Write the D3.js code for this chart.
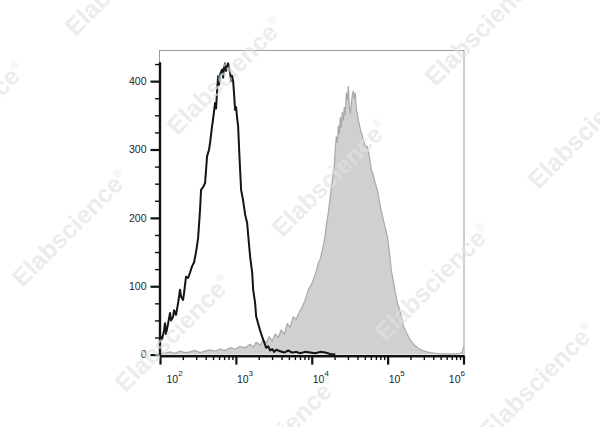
<!DOCTYPE html>
<html><head><meta charset="utf-8">
<script src="https://cdn.jsdelivr.net/npm/d3@7"></script>
<style>body{margin:0;background:#fff}svg{display:block}</style>
</head><body><svg id="c" width="600" height="427"></svg>
<script>
// ---- data ----
const yTickValues = [0, 100, 200, 300, 400];
const xDecades = [2, 3, 4, 5, 6];
const xTickBase = "10";

// unstained / isotype control (black line): log10 fluorescence, count
const blackLogFL = [2.000,2.026,2.053,2.066,2.079,2.106,2.132,2.145,2.172,2.185,2.211,2.238,2.264,2.277,2.304,2.317,2.343,2.370,2.396,2.422,2.449,2.475,2.502,2.528,2.541,2.568,2.594,2.607,2.620,2.647,2.660,2.686,2.700,2.726,2.739,2.752,2.766,2.779,2.792,2.818,2.832,2.845,2.858,2.871,2.884,2.898,2.911,2.924,2.937,2.950,2.964,2.977,2.990,3.003,3.017,3.030,3.043,3.056,3.069,3.096,3.122,3.149,3.162,3.188,3.215,3.228,3.254,3.267,3.294,3.320,3.347,3.373,3.399,3.426,3.452,3.479,3.505,3.531,3.584,3.637,3.690,3.743,3.795,3.848,3.914,3.980,4.046,4.112,4.178,4.244,4.310];
const blackCounts = [28,22,35,46,30,45,61,50,55,65,58,75,95,85,80,90,114,112,120,129,135,150,170,212,241,245,251,270,290,300,310,334,345,368,360,385,407,395,410,417,405,420,426,415,422,426,418,412,400,408,400,380,358,362,345,334,300,270,241,225,205,192,175,143,120,95,75,56,45,35,26,18,10,12,6,8,4,7,5,3,6,3,4,2,4,3,2,4,3,1,0];

// stained sample (grey filled): log10 fluorescence, count
const grayLogFL = [2.000,2.066,2.132,2.198,2.264,2.330,2.396,2.462,2.528,2.594,2.660,2.726,2.792,2.858,2.924,2.990,3.056,3.122,3.188,3.228,3.267,3.320,3.360,3.399,3.439,3.479,3.518,3.558,3.597,3.637,3.677,3.716,3.756,3.795,3.835,3.875,3.914,3.954,3.993,4.020,4.059,4.086,4.112,4.152,4.178,4.191,4.218,4.244,4.271,4.297,4.310,4.323,4.337,4.350,4.363,4.376,4.389,4.403,4.416,4.429,4.442,4.455,4.469,4.482,4.495,4.508,4.521,4.535,4.548,4.561,4.574,4.587,4.601,4.614,4.640,4.667,4.680,4.706,4.733,4.759,4.786,4.812,4.838,4.865,4.891,4.917,4.944,4.970,4.997,5.023,5.050,5.076,5.102,5.129,5.168,5.208,5.248,5.300,5.353,5.406,5.459,5.512,5.564,5.630,5.696,5.762,5.828,5.894,5.960,5.987,6.000];
const grayCounts = [3,2,4,2,5,3,4,6,3,5,7,5,8,6,10,8,12,10,15,11,18,14,22,17,26,20,30,25,36,30,45,40,55,52,62,70,80,95,102,109,122,134,140,159,175,188,207,231,255,275,300,319,310,335,322,348,332,355,342,362,350,383,372,393,365,352,366,380,386,374,383,360,352,343,330,320,314,305,304,290,270,262,250,241,225,210,197,185,173,150,122,108,90,76,62,42,32,21,14,9,6,4,3,2,1,1,1,1,2,4,12];

const watermarkText = "Elabscience";

// ---- drawing ----
const svg = d3.select("#c");
const x = d3.scaleLog().domain([1e2, 1e6]).range([160, 463.5]);
const y = d3.scaleLinear().domain([0, 428]).range([354.6, 62]);

// frame
svg.append("rect")
  .attr("x", 159.5).attr("y", 50.5).attr("width", 304.5).attr("height", 305)
  .attr("fill", "none").attr("stroke", "#9c9c9c").attr("stroke-width", 1);

const gray = grayLogFL.map((v, i) => [v, grayCounts[i]]);
const black = blackLogFL.map((v, i) => [v, blackCounts[i]]);

svg.append("path").datum(gray)
  .attr("d", d3.area().x(d => x(Math.pow(10, d[0]))).y0(y(0)).y1(d => y(d[1])))
  .attr("fill", "#d0d0d0");
svg.append("path").datum(gray)
  .attr("d", d3.line().x(d => x(Math.pow(10, d[0]))).y(d => y(d[1])))
  .attr("fill", "none").attr("stroke", "#a9a9a9").attr("stroke-width", 1.2);

svg.append("path").datum(black)
  .attr("d", d3.line().x(d => x(Math.pow(10, d[0]))).y(d => y(d[1])))
  .attr("fill", "none").attr("stroke", "#141414").attr("stroke-width", 2)
  .attr("stroke-linejoin", "round");

// y axis
const yMinor = d3.range(25, 430, 25).filter(v => v % 100 !== 0);
const yAxisG = svg.append("g").attr("transform", "translate(159.5,0)");
yAxisG.call(d3.axisLeft(y).tickValues(yMinor).tickSize(4.5).tickSizeOuter(0).tickFormat(""));
yAxisG.call(g => g.selectAll(".tick line").attr("stroke-width", 1.4).attr("stroke", "#111"));
const yMajorG = svg.append("g").attr("transform", "translate(159.5,0)");
yMajorG.call(d3.axisLeft(y).tickValues(yTickValues).tickSize(9).tickPadding(4).tickSizeOuter(0));
yMajorG.selectAll(".tick line").attr("stroke-width", 2.2).attr("stroke", "#111");
yMajorG.selectAll(".tick text").attr("font-family", "Liberation Sans, Arial, sans-serif")
  .attr("font-size", 10.5).attr("fill", "#222");
svg.selectAll(".domain").attr("stroke", "#111").attr("stroke-width", 2.2);

// x axis
const xMinor = [];
xDecades.slice(0, -1).forEach(e => { for (let k = 2; k <= 9; k++) xMinor.push(k * Math.pow(10, e)); });
const xAxisY = 355.6;
const xMinG = svg.append("g").attr("transform", `translate(0,${xAxisY})`);
xMinG.call(d3.axisBottom(x).tickValues(xMinor).tickSize(4.5).tickSizeOuter(0).tickFormat(""));
xMinG.selectAll(".tick line").attr("stroke-width", 1.4).attr("stroke", "#111");
const xMajG = svg.append("g").attr("transform", `translate(0,${xAxisY})`);
xMajG.call(d3.axisBottom(x).tickValues(xDecades.map(e => Math.pow(10, e))).tickSize(9).tickSizeOuter(0).tickFormat(""));
xMajG.selectAll(".tick line").attr("stroke-width", 2.2).attr("stroke", "#111");
svg.selectAll(".domain").attr("stroke", "#111").attr("stroke-width", 2.2);

const lab = svg.append("g").attr("font-family", "Liberation Sans, Arial, sans-serif").attr("fill", "#222");
xDecades.forEach((e, i) => {
  const tx = x(Math.pow(10, e));
  const last = i === xDecades.length - 1;
  const t = lab.append("text")
    .attr("x", last ? tx + 1.5 : tx + (i === 0 ? 6.5 : 1))
    .attr("y", 382.5)
    .attr("text-anchor", last ? "end" : "start")
    .attr("font-size", 10.5);
  t.append("tspan").text(xTickBase);
  t.append("tspan").attr("font-size", 8).attr("dy", -6.5).text(e);
});

// watermark
const wm = svg.append("g").attr("fill", "#e2e2e2").attr("fill-opacity", 0.65)
  .attr("font-family", "Liberation Sans, Arial, sans-serif").attr("font-weight", "bold").attr("font-size", 25);
[[123,-23],[225,76],[330,178],[433,282],[537,381],[-33,120],[70,228],[173,333],[279,435],[483,27],[586,130]]
  .forEach(([cx, cy]) => {
    const t = wm.append("text").attr("transform", `translate(${cx},${cy}) rotate(-45)`)
      .attr("text-anchor", "middle").attr("dy", "0.35em");
    t.append("tspan").text(watermarkText);
    t.append("tspan").attr("font-size", 11).attr("font-weight", "normal").attr("dy", -11).text("®");
  });
</script>
</body></html>
